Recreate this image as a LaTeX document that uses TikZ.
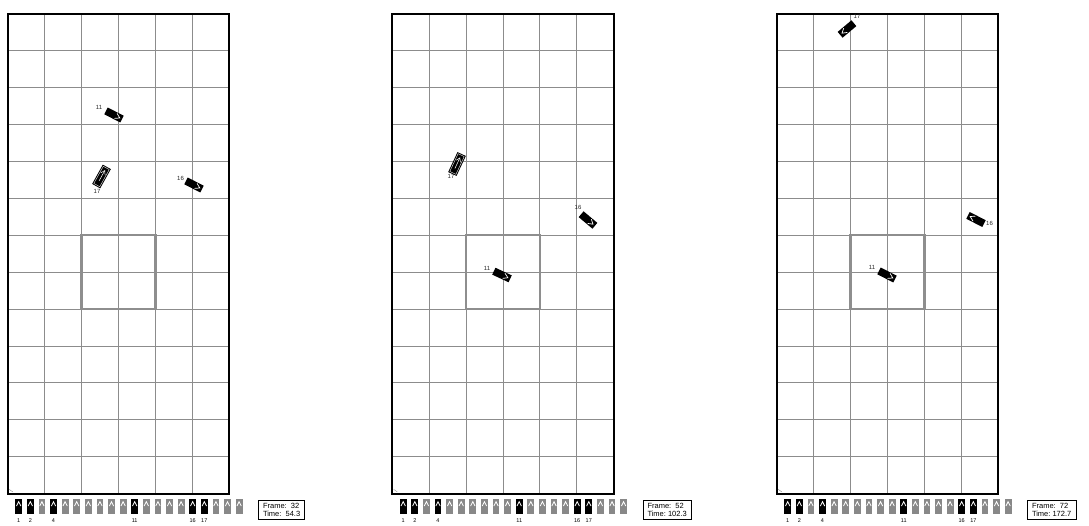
\documentclass[tikz,border=0pt]{standalone}
\usepackage{fontspec}
\setmainfont{Liberation Sans}
\usepackage{tikz}
\definecolor{GridGray}{HTML}{8C8C8C}
\definecolor{ZoneGray}{HTML}{8E8E8E}
\definecolor{SlotGray}{HTML}{888888}

\begin{document}
\begin{tikzpicture}[
      x=1pt, y=-1pt,
      gridline/.style={draw=GridGray, line width=0.8pt},
      border/.style={draw=black, line width=2pt},
      zone/.style={draw=ZoneGray, line width=2.4pt},
      slot/.style={fill=SlotGray},
      slotactive/.style={fill=black},
      slotmark/.style={draw=white, line width=0.8pt},
      slotlabel/.style={font=\fontsize{5.5}{6}\selectfont, inner sep=0pt},
      car/.style={fill=black},
      carmark/.style={draw=white, line width=0.7pt},
      carlabel/.style={font=\fontsize{6}{6}\selectfont, text=black!85, inner sep=0pt},
      framebox/.style={draw=black, line width=0.6pt, align=left, anchor=north west, inner xsep=4.5pt, inner ysep=2.5pt, font=\fontsize{7.5}{8.5}\selectfont},
  ]
  \clip (0,0) rectangle (1089,525);

  % Panels
  \foreach \px/\frm/\tim [count=\p] in {0/32/{\ 54.3}, 384.5/52/102.3, 769/72/172.7} {
    \begin{scope}[shift={(\px+7.7,13.85)}]
      % grid
      \foreach \c in {1,...,5}
        \draw[gridline] (\c*36.9,0) -- (\c*36.9,479.7);
      \foreach \r in {1,...,12}
        \draw[gridline] (0,\r*36.9) -- (221.4,\r*36.9);
      \draw[zone] (73.8,221.4) rectangle (147.6,295.2);
      \draw[border] (0,0) rectangle (221.4,479.7);
      \draw[GridGray, line width=0.4pt] (1.5,475.5) -- (5,478);

      % slots
      \foreach \i in {1,...,20}
        \fill[slot] (7.6+11.6*\i-11.6,485.2) rectangle ++(6.8,15);
      \foreach \i in {1,2,4,11,16,17} {
        \fill[slotactive] (7.6+11.6*\i-11.6,485.2) rectangle ++(6.8,15);
        \node[slotlabel] (slot\p-\i) at (11+11.6*\i-11.6,506.8) {\i};
      }
      \foreach \i in {1,...,20}
        \draw[slotmark] (8.8+11.6*\i-11.6,492.2) -- ++(2.2,-4.4) -- ++(2.2,4.4);

      % frame counter
      \node[framebox] (frame\p) at (250.5,486.2) {Frame:\ \ \frm\\Time:\ \tim};
    \end{scope}
  }

  % Vehicles
  \foreach \x/\y/\a/\lab/\lx/\ly/\s [count=\v] in {
      114/115/-27/11/99/107/0, 101.5/176.5/61/17/97/191/1, 194/185/-27/16/180.5/178.5/0,
      457/164/65/17/451/176/1, 588/220/-40/16/578/207/0, 502/275/-25/11/487/268/0,
      847/29/-140/17/857/16/0, 976/219.5/153/16/989.5/223/0, 887/275/-27/11/872/267/0} {
    \node[carlabel] (label\v) at (\lx,\ly) {\lab};
    \begin{scope}[shift={(\x,\y)}, rotate=\a]
      \ifnum\s=1
        \fill[car] (-11,-4.6) rectangle (11,4.6);
        \draw[white, line width=0.35pt] (-9.8,-3.4) rectangle (9.8,3.4);
        \draw[carmark, line width=0.5pt] (-5,0) -- (6.5,0);
        \draw[carmark, line width=0.5pt] (3,-2.4) -- (6.8,0) -- (3,2.4);
      \else
        \fill[car] (-9,-3.8) rectangle (9,3.8);
        \draw[carmark] (2,-2.8) -- (6.5,0) -- (2,2.8);
      \fi
    \end{scope}
  }

  \end{tikzpicture}
\end{document}
